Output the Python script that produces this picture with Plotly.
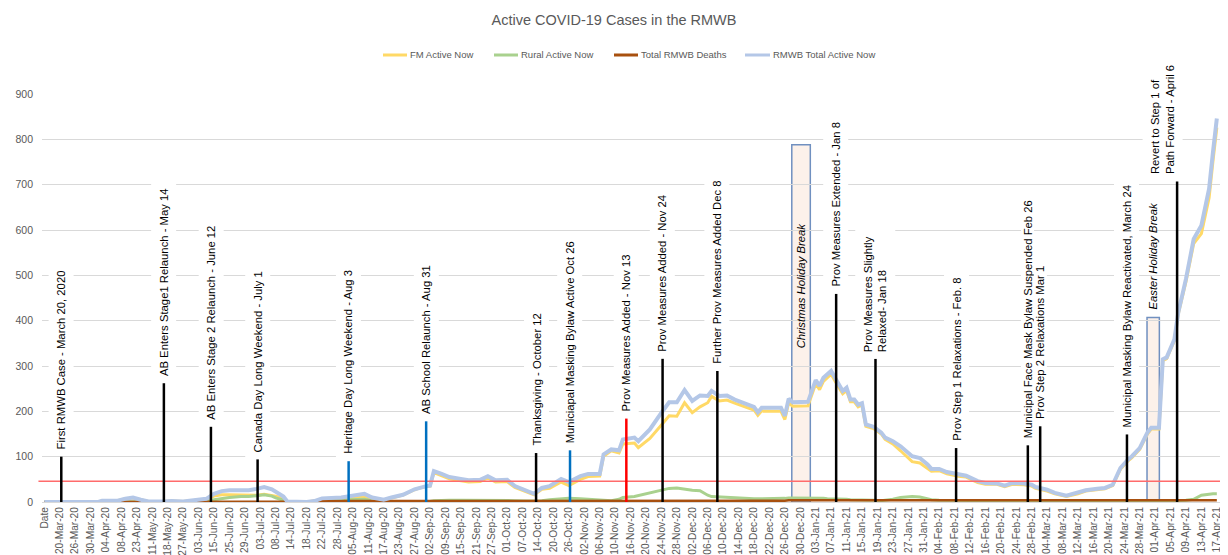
import plotly.graph_objects as go

# ---------------- data ----------------
tick_labels = [
    "Date", "20-Mar-20", "26-Mar-20", "30-Mar-20", "04-Apr-20", "08-Apr-20", "23-Apr-20",
    "11-May-20", "18-May-20", "27-May-20", "03-Jun-20", "15-Jun-20", "25-Jun-20", "29-Jun-20",
    "03-Jul-20", "08-Jul-20", "14-Jul-20", "18-Jul-20", "22-Jul-20", "28-Jul-20", "05-Aug-20",
    "11-Aug-20", "17-Aug-20", "23-Aug-20", "27-Aug-20", "02-Sep-20", "09-Sep-20", "15-Sep-20",
    "21-Sep-20", "27-Sep-20", "01-Oct-20", "07-Oct-20", "14-Oct-20", "20-Oct-20", "26-Oct-20",
    "02-Nov-20", "06-Nov-20", "10-Nov-20", "16-Nov-20", "20-Nov-20", "24-Nov-20", "28-Nov-20",
    "02-Dec-20", "06-Dec-20", "10-Dec-20", "14-Dec-20", "18-Dec-20", "22-Dec-20", "26-Dec-20",
    "30-Dec-20", "03-Jan-21", "07-Jan-21", "11-Jan-21", "15-Jan-21", "19-Jan-21", "23-Jan-21",
    "27-Jan-21", "31-Jan-21", "04-Feb-21", "08-Feb-21", "12-Feb-21", "16-Feb-21", "20-Feb-21",
    "24-Feb-21", "28-Feb-21", "04-Mar-21", "08-Mar-21", "12-Mar-21", "16-Mar-21", "20-Mar-21",
    "24-Mar-21", "28-Mar-21", "01-Apr-21", "05-Apr-21", "09-Apr-21", "13-Apr-21", "17-Apr-21",
]
LABEL_EVERY = 4  # one tick label every 4 category rows

# category row index of each sampled point
day_idx = [
    0, 4, 14, 15, 19, 21, 23, 25, 27, 31, 33, 36, 40, 42, 44, 46, 48, 51, 53, 55, 57, 59, 60, 62, 63,
    68, 70, 72, 77, 80, 83, 85, 88, 90, 93, 96, 97, 99, 100, 101, 103, 105, 108, 110, 113, 115, 117,
    120, 122, 125, 127, 129, 131, 134, 136, 139, 141, 144, 145, 147, 149, 150, 153, 154, 157, 160,
    162, 164, 166, 168, 170, 172, 173, 175, 177, 179, 181, 184, 185, 186, 189, 191, 192, 193, 194,
    198, 200, 201, 202, 203, 204, 205, 207, 208, 209, 210, 211, 212, 213, 215, 217, 218, 220, 222,
    224, 225, 227, 229, 230, 232, 234, 237, 239, 242, 244, 247, 249, 251, 254, 256, 257, 260, 262,
    265, 268, 270, 273, 275, 277, 279, 281, 282, 284, 286, 287, 289, 290, 291, 293, 294, 296, 298,
    300, 302, 303, 304,
]
total_active = [
    0, 0, 0, 3, 3, 7, 10, 5, 1, 1, 2, 1, 5, 7, 18, 24, 26, 27, 26, 29, 33, 28, 22, 12, 1,
    0, 2, 8, 10, 14, 18, 10, 5, 10, 16, 28, 31, 35, 36, 68, 62, 55, 51, 48, 49, 57, 48,
    49, 35, 24, 18, 31, 35, 51, 44, 57, 62, 62, 105, 116, 114, 138, 142, 134, 160, 197,
    220, 220, 247, 223, 235, 234, 245, 234, 235, 226, 220, 210, 198, 208, 208, 208, 190, 228, 220,
    221, 269, 256, 274, 282, 289, 274, 245, 252, 226, 226, 215, 218, 171, 166, 153, 142, 134, 123,
    110, 101, 97, 83, 73, 73, 66, 60, 58, 46, 42, 41, 36, 42, 41, 38, 33, 27, 20,
    14, 20, 26, 29, 31, 38, 75, 94, 101, 119, 153, 164, 164, 315, 319, 359, 418, 492, 580,
    610, 691, 772, 846,
]
rural_active = [
    0, 0, 0, 0, 0, 0, 0, 0, 0, 0, 0, 0, 0, 1, 5, 8, 10, 12, 12, 14, 16, 13, 9, 4, 0,
    0, 0, 3, 5, 6, 6, 3, 1, 1, 1, 1, 1, 1, 1, 3, 4, 4, 4, 4, 4, 4, 4,
    4, 3, 2, 2, 3, 5, 7, 8, 7, 6, 5, 4, 3, 6, 10, 12, 14, 20, 27,
    30, 31, 28, 26, 25, 15, 12, 11, 10, 8, 8, 7, 7, 7, 8, 8, 8, 9, 9,
    9, 8, 8, 8, 7, 7, 7, 6, 6, 5, 5, 5, 4, 4, 4, 3, 4, 6, 10,
    12, 12, 11, 8, 5, 4, 4, 3, 3, 3, 3, 2, 2, 3, 3, 3, 3, 3, 2,
    2, 2, 2, 2, 2, 2, 3, 3, 3, 3, 3, 3, 3, 3, 3, 3, 3, 4, 6,
    15, 18, 18, 18,
]
fm_active = [
    0, 0, 0, 3, 3, 7, 9, 5, 1, 1, 2, 1, 5, 6, 13, 16, 16, 15, 14, 15, 17, 15, 13, 8, 1,
    0, 2, 5, 5, 8, 12, 7, 4, 9, 15, 27, 30, 34, 35, 65, 58, 51, 47, 44, 45, 53, 44,
    45, 32, 22, 16, 28, 30, 44, 36, 50, 56, 57, 101, 113, 108, 128, 130, 120, 140, 170,
    190, 189, 219, 197, 210, 219, 233, 223, 225, 218, 212, 203, 191, 201, 200, 200, 182, 219, 211,
    212, 261, 248, 266, 275, 282, 267, 239, 246, 221, 221, 210, 214, 167, 162, 150, 138, 128, 113,
    98, 89, 86, 75, 68, 69, 62, 57, 55, 43, 39, 39, 34, 39, 38, 35, 30, 24, 18,
    12, 18, 24, 27, 29, 36, 72, 91, 98, 116, 150, 161, 161, 312, 316, 356, 415, 486, 570,
    592, 671, 752, 826,
]
total_deaths = [
    0, 0, 0, 1, 1, 1, 1, 1, 1, 1, 1, 1, 1, 1, 1, 1, 1, 1, 1, 1, 1, 1, 1, 1, 1,
    1, 1, 2, 2, 2, 2, 2, 2, 2, 2, 2, 2, 2, 2, 2, 2, 2, 2, 2, 2, 2, 2,
    2, 2, 2, 2, 2, 2, 2, 2, 2, 2, 2, 2, 2, 2, 2, 2, 2, 2, 2,
    2, 2, 2, 2, 2, 2, 2, 2, 2, 2, 2, 2, 2, 2, 3, 3, 3, 4, 4,
    4, 4, 4, 4, 4, 4, 4, 4, 4, 4, 4, 4, 4, 4, 4, 4, 4, 4, 4,
    4, 4, 4, 4, 4, 4, 4, 4, 4, 4, 4, 4, 4, 4, 4, 4, 4, 4, 4,
    4, 4, 4, 4, 4, 4, 4, 4, 4, 4, 4, 4, 4, 4, 4, 4, 4, 4, 4,
    4, 4, 4, 4,
]
threshold_value = 46

# event markers: (text, category position, height of marker, colour)
events = [
    ("First RMWB Case - March 20, 2020", 4.4, 100, "#000000"),
    ("AB Enters Stage1 Relaunch - May 14", 31.0, 262, "#000000"),
    ("AB Enters Stage 2 Relaunch - June 12", 43.2, 166, "#000000"),
    ("Canada Day Long Weekend - July 1", 55.3, 94, "#000000"),
    ("Heritage Day Long Weekend - Aug 3", 78.9, 90, "#0070C0"),
    ("AB School Relaunch - Aug 31", 99.0, 178, "#0070C0"),
    ("Thanksgiving - October 12", 127.5, 108, "#000000"),
    ("Municiapal Masking Bylaw Active Oct 26", 136.3, 114, "#0070C0"),
    ("Prov Measures Added - Nov 13", 150.9, 184, "#FF0000"),
    ("Prov Measures Added - Nov 24", 160.3, 316, "#000000"),
    ("Further Prov Measures Added Dec 8", 174.5, 289, "#000000"),
    ("Prov Measures Extended - Jan 8", 205.3, 459, "#000000"),
    ("Prov Measures Slightly<br>Relaxed- Jan 18", 215.5, 316, "#000000"),
    ("Prov Step 1 Relaxations - Feb. 8", 236.4, 119, "#000000"),
    ("Municipal Face Mask Bylaw Suspended Feb 26", 255.0, 125, "#000000"),
    ("Prov Step 2 Relaxations Mar 1", 258.2, 167, "#000000"),
    ("Municipal Masking Bylaw Reactivated, March 24", 280.7, 149, "#000000"),
    ("Revert to Step 1 of<br>Path Forward - April 6", 293.7, 707, "#000000"),
]
text_shift = {"Revert to Step 1 of<br>Path Forward - April 6": -14}
tight_labels = {"Municipal Face Mask Bylaw Suspended Feb 26", "Prov Step 2 Relaxations Mar 1"}

# holiday boxes: (text, start pos, end pos, box height, text centre height)
holidays = [
    ("Christmas Holiday Break", 193.8, 198.6, 788, 478),
    ("Easter Holiday Break", 285.9, 289.1, 407, 542),
]

# ---------------- figure ----------------
GRAY = "#595959"
FONT = "Liberation Sans, Arial, sans-serif"
FIG_W, FIG_H = 1220, 547          # page body has an 8px margin
M_L, M_R, M_T, M_B = 34, 5, 86, 53
PLOT_W = FIG_W - M_L - M_R
PLOT_H = FIG_H - M_T - M_B


def px_to_paper_x(px):
    return (px - 8 - M_L) / PLOT_W


def px_to_paper_y(py):
    return (FIG_H - M_B - (py - 8)) / PLOT_H


fig = go.Figure()
series = [
    ("FM Active Now", fm_active, "#FFD966", 3),
    ("Rural Active Now", rural_active, "#A9D18E", 3),
    ("Total RMWB Deaths", total_deaths, "#A8500F", 2.5),
    ("RMWB Total Active Now", total_active, "#B4C7E7", 4),
]
for name, vals, col, w in series:
    fig.add_trace(go.Scatter(x=day_idx, y=vals, mode="lines", name=name,
                             line=dict(color=col, width=w), hoverinfo="skip",
                             showlegend=False))

shapes = []
annotations = []

# manual legend (sample line start/end in page pixels)
legend_pos = [(383, 407), (494, 518), (614, 638), (745, 770)]
legend_y = px_to_paper_y(55)
for (name, vals, col, w), (s0, s1) in zip(series, legend_pos):
    shapes.append(dict(type="line", xref="paper", yref="paper",
                       x0=px_to_paper_x(s0), x1=px_to_paper_x(s1), y0=legend_y, y1=legend_y,
                       line=dict(color=col, width=3)))
    annotations.append(dict(x=px_to_paper_x(s1 + 1), y=legend_y, xref="paper", yref="paper",
                            text=name, showarrow=False, xanchor="left", yanchor="middle",
                            font=dict(family=FONT, size=9.5, color=GRAY)))

# threshold line
shapes.append(dict(type="line", xref="paper", yref="y", x0=-0.003, x1=1.0,
                   y0=threshold_value, y1=threshold_value,
                   line=dict(color="#FF6B6B", width=1.5), layer="above"))
# holiday boxes
for txt, x0, x1, top, tc in holidays:
    shapes.append(dict(type="rect", xref="x", yref="y", x0=x0, x1=x1, y0=0, y1=top,
                       fillcolor="#FCF1EA", line=dict(color="#7090C0", width=1.5), layer="below"))
# event markers
for txt, xp, top, col in events:
    shapes.append(dict(type="line", xref="x", yref="y", x0=xp, x1=xp, y0=0, y1=top,
                       line=dict(color=col, width=2.5), layer="above"))

for txt, xp, top, col in events:
    tight = txt in tight_labels
    annotations.append(dict(x=xp, y=top, xref="x", yref="y", text=txt, showarrow=False,
                            textangle=-90, xanchor="center", yanchor="bottom", align="left",
                            xshift=text_shift.get(txt, 0), yshift=6 if tight else 0,
                            bgcolor="white", borderpad=0 if tight else 6,
                            font=dict(family=FONT, size=11.3, color="#000000")))
for txt, x0, x1, top, tc in holidays:
    annotations.append(dict(x=(x0 + x1) / 2, y=tc, xref="x", yref="y", text="<i>" + txt + "</i>",
                            showarrow=False, textangle=-90, xanchor="center", yanchor="middle",
                            font=dict(family=FONT, size=11.3, color="#000000")))

fig.update_layout(
    width=FIG_W, height=FIG_H,
    template="none",
    paper_bgcolor="white", plot_bgcolor="white",
    margin=dict(l=M_L, r=M_R, t=M_T, b=M_B, pad=0),
    title=dict(text="Active COVID-19 Cases in the RMWB", x=(614 - 8) / FIG_W, xref="container",
               y=1 - 12 / FIG_H, yref="container", yanchor="middle", xanchor="center",
               font=dict(family=FONT, size=14.5, color=GRAY)),
    shapes=shapes,
    annotations=annotations,
    showlegend=False,
)
fig.update_xaxes(
    range=[-0.6, 305.6], tickmode="array",
    tickvals=[i * LABEL_EVERY for i in range(len(tick_labels))], ticktext=tick_labels,
    tickangle=-90, tickfont=dict(family=FONT, size=10.2, color=GRAY), color=GRAY,
    showgrid=False, zeroline=False, showline=True, linecolor="#D9D9D9", linewidth=1,
    ticks="", automargin=False,
)
fig.update_yaxes(
    range=[0, 900], tickmode="array", tickvals=list(range(0, 901, 100)),
    tickfont=dict(family=FONT, size=10.5, color=GRAY), color=GRAY,
    showgrid=True, gridcolor="#D9D9D9", gridwidth=1, zeroline=False, showline=False,
    ticks="", automargin=False, ticklabelstandoff=8,
)

fig.write_html("out.html")
